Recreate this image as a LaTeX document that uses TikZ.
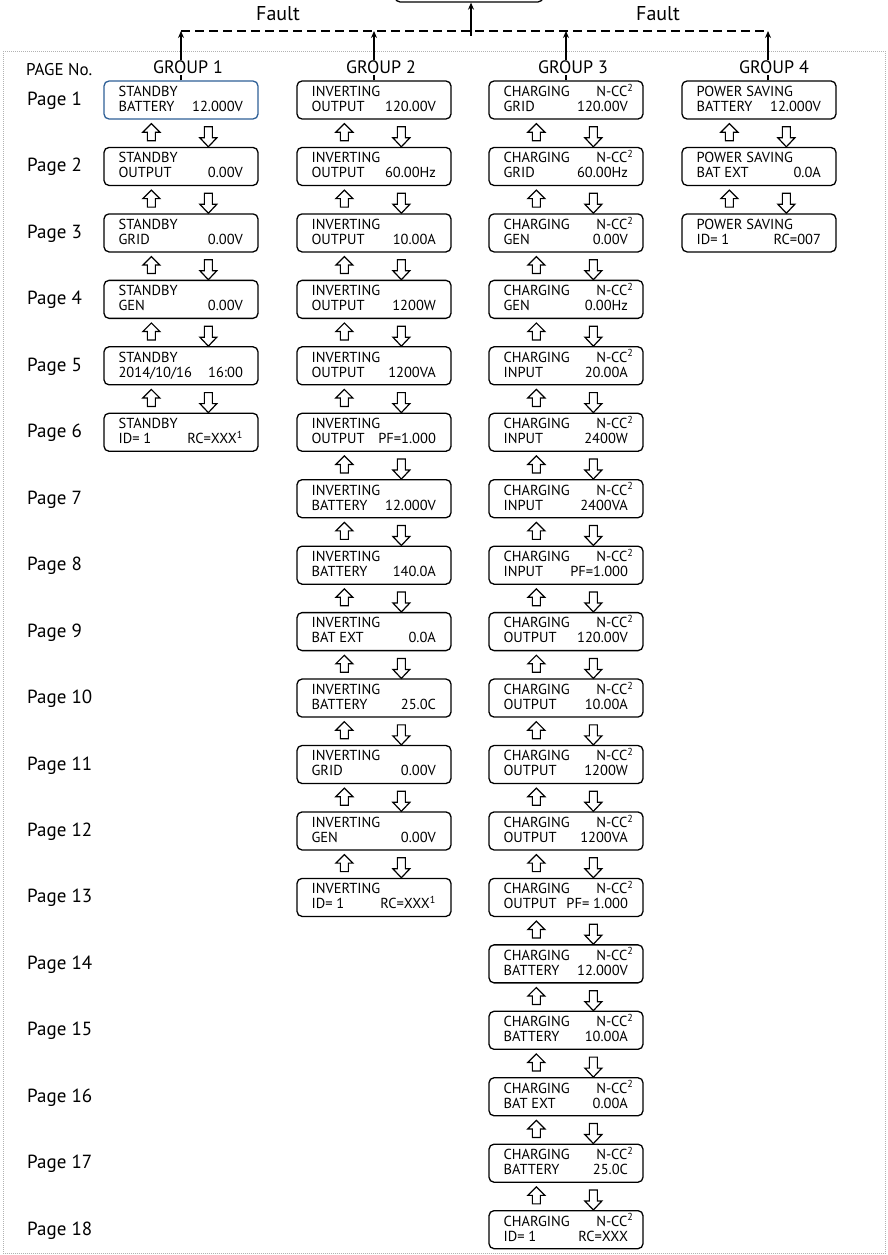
\documentclass[tikz,border=0pt]{standalone}
\usepackage{fontspec}
\setmainfont{PT Sans}
\usetikzlibrary{calc,arrows.meta}
\definecolor{lcdblue}{RGB}{46,95,150}
\tikzset{
  lcdbox/.style={draw, rounded corners=5pt, line width=1.3pt, minimum width=154pt, minimum height=38pt, inner sep=0pt},
  lcdtxt/.style={inner sep=0pt, font=\fontsize{14.5}{16}\selectfont},
  blockarrow/.style={draw, fill=white, line width=1.2pt, line join=miter},
  pagelbl/.style={inner sep=0pt, anchor=base west, font=\fontsize{19}{22}\selectfont},
  grouplbl/.style={inner sep=1pt, anchor=base, fill=white, font=\fontsize{18}{20}\selectfont},
  faultlbl/.style={inner sep=0pt, anchor=base, font=\fontsize{20}{22}\selectfont},
  faultline/.style={line width=1.5pt, dash pattern=on 9pt off 5pt},
  faultarrow/.style={line width=1.3pt, -{Stealth[length=7pt,width=6pt]}},
  framebox/.style={draw=gray!60, line width=0.8pt, dash pattern=on 1pt off 1pt},
}
\newcommand\lcd[8][black]{%
  \node[lcdbox, draw=#1] (#2) at (#3+77, 81+66.45*#4+19) {};
  \node[lcdtxt, anchor=base west] (#2a) at ($(#2.north west)+(15,16)$) {#5};
  \node[lcdtxt, anchor=base east] (#2b) at ($(#2.north east)+(-10,16)$) {#6};
  \node[lcdtxt, anchor=base west] (#2c) at ($(#2.north west)+(15,31)$) {#7};
  \node[lcdtxt, anchor=base east] (#2d) at ($(#2.north east)+(-15.5,31)$) {#8};
}
\newcommand\uparr[1]{\draw[blockarrow] ($(#1.south west)+(48,4)$) -- ++(8.5,8.5) -- ++(-4.5,0) -- ++(0,8.5) -- ++(-8,0) -- ++(0,-8.5) -- ++(-4.5,0) -- cycle;}
\newcommand\dnarr[1]{\draw[blockarrow] ($(#1.north west)+(105,0)$) -- ++(8.5,-9) -- ++(-4.5,0) -- ++(0,-11) -- ++(-8,0) -- ++(0,11) -- ++(-4.5,0) -- cycle;}
\newcommand\cc{N-CC\textsuperscript{2}}
\begin{document}
\begin{tikzpicture}[x=1pt,y=-1pt]
\useasboundingbox (0,0) rectangle (888,1255);
% frame
\draw[framebox] (3,51) rectangle (885,1253.5);
% top box and fault lines
\node[draw, rounded corners=5pt, line width=1.3pt, minimum width=148pt, minimum height=40pt, inner sep=0pt] (top) at (469,-18) {};
\coordinate (t1) at (181,31);
\coordinate (t2) at (374,31);
\coordinate (t3) at (566,31);
\coordinate (t4) at (768,31);
\coordinate (tc) at (471,36);
\draw[faultline] (t1) -- (t4);
\draw[faultarrow] (tc) -- (tc |- top.south);
\node[faultlbl] (f1) at (278,21) {Fault};
\node[faultlbl] (f2) at (658,21) {Fault};
% Group 1
\lcd[lcdblue]{g1r1}{104}{0}{STANDBY}{}{BATTERY}{12.000V}
\lcd{g1r2}{104}{1}{STANDBY}{}{OUTPUT}{0.00V}
\lcd{g1r3}{104}{2}{STANDBY}{}{GRID}{0.00V}
\lcd{g1r4}{104}{3}{STANDBY}{}{GEN}{0.00V}
\lcd{g1r5}{104}{4}{STANDBY}{}{2014/10/16}{16:00}
\lcd{g1r6}{104}{5}{STANDBY}{}{ID= 1}{RC=XXX\textsuperscript{1}}
% Group 2
\lcd{g2r1}{297}{0}{INVERTING}{}{OUTPUT}{120.00V}
\lcd{g2r2}{297}{1}{INVERTING}{}{OUTPUT}{60.00Hz}
\lcd{g2r3}{297}{2}{INVERTING}{}{OUTPUT}{10.00A}
\lcd{g2r4}{297}{3}{INVERTING}{}{OUTPUT}{1200W}
\lcd{g2r5}{297}{4}{INVERTING}{}{OUTPUT}{1200VA}
\lcd{g2r6}{297}{5}{INVERTING}{}{OUTPUT}{PF=1.000}
\lcd{g2r7}{297}{6}{INVERTING}{}{BATTERY}{12.000V}
\lcd{g2r8}{297}{7}{INVERTING}{}{BATTERY}{140.0A}
\lcd{g2r9}{297}{8}{INVERTING}{}{BAT EXT}{0.0A}
\lcd{g2r10}{297}{9}{INVERTING}{}{BATTERY}{25.0C}
\lcd{g2r11}{297}{10}{INVERTING}{}{GRID}{0.00V}
\lcd{g2r12}{297}{11}{INVERTING}{}{GEN}{0.00V}
\lcd{g2r13}{297}{12}{INVERTING}{}{ID= 1}{RC=XXX\textsuperscript{1}}
% Group 3
\lcd{g3r1}{489}{0}{CHARGING}{\cc}{GRID}{120.00V}
\lcd{g3r2}{489}{1}{CHARGING}{\cc}{GRID}{60.00Hz}
\lcd{g3r3}{489}{2}{CHARGING}{\cc}{GEN}{0.00V}
\lcd{g3r4}{489}{3}{CHARGING}{\cc}{GEN}{0.00Hz}
\lcd{g3r5}{489}{4}{CHARGING}{\cc}{INPUT}{20.00A}
\lcd{g3r6}{489}{5}{CHARGING}{\cc}{INPUT}{2400W}
\lcd{g3r7}{489}{6}{CHARGING}{\cc}{INPUT}{2400VA}
\lcd{g3r8}{489}{7}{CHARGING}{\cc}{INPUT}{PF=1.000}
\lcd{g3r9}{489}{8}{CHARGING}{\cc}{OUTPUT}{120.00V}
\lcd{g3r10}{489}{9}{CHARGING}{\cc}{OUTPUT}{10.00A}
\lcd{g3r11}{489}{10}{CHARGING}{\cc}{OUTPUT}{1200W}
\lcd{g3r12}{489}{11}{CHARGING}{\cc}{OUTPUT}{1200VA}
\lcd{g3r13}{489}{12}{CHARGING}{\cc}{OUTPUT}{PF= 1.000}
\lcd{g3r14}{489}{13}{CHARGING}{\cc}{BATTERY}{12.000V}
\lcd{g3r15}{489}{14}{CHARGING}{\cc}{BATTERY}{10.00A}
\lcd{g3r16}{489}{15}{CHARGING}{\cc}{BAT EXT}{0.00A}
\lcd{g3r17}{489}{16}{CHARGING}{\cc}{BATTERY}{25.0C}
\lcd{g3r18}{489}{17}{CHARGING}{\cc}{ID= 1}{RC=XXX}
% Group 4
\lcd{g4r1}{682}{0}{POWER SAVING}{}{BATTERY}{12.000V}
\lcd{g4r2}{682}{1}{POWER SAVING}{}{BAT EXT}{0.0A\hspace{22pt}}
\lcd{g4r3}{682}{2}{POWER SAVING}{}{ID= 1}{RC=007}
% arrows between pages
\foreach \i [count=\j from 2] in {1,...,5} {\uparr{g1r\i}\dnarr{g1r\j}}
\foreach \i [count=\j from 2] in {1,...,12} {\uparr{g2r\i}\dnarr{g2r\j}}
\foreach \i [count=\j from 2] in {1,...,17} {\uparr{g3r\i}\dnarr{g3r\j}}
\foreach \i [count=\j from 2] in {1,2} {\uparr{g4r\i}\dnarr{g4r\j}}
% group connectors
\draw[faultarrow] (g1r1.north) -- (t1);
\draw[faultarrow] (g2r1.north) -- (t2);
\draw[faultarrow] (g3r1.north) -- (t3);
\draw[faultarrow] (g4r1.north -| t4) -- (t4);
\node[grouplbl] (h1) at (188,74) {GROUP 1};
\node[grouplbl] (h2) at (381,74) {GROUP 2};
\node[grouplbl] (h3) at (573,74) {GROUP 3};
\node[grouplbl] (h4) at (774,74) {GROUP 4};
\node[inner sep=0pt, anchor=base west, font=\fontsize{17}{20}\selectfont] (pno) at (26,75) {PAGE No.};
% page labels
\foreach \i in {1,...,18} {\node[pagelbl] (p\i) at (27, 81+66.45*\i-66.45+24.5) {Page \i};}
\end{tikzpicture}
\end{document}
